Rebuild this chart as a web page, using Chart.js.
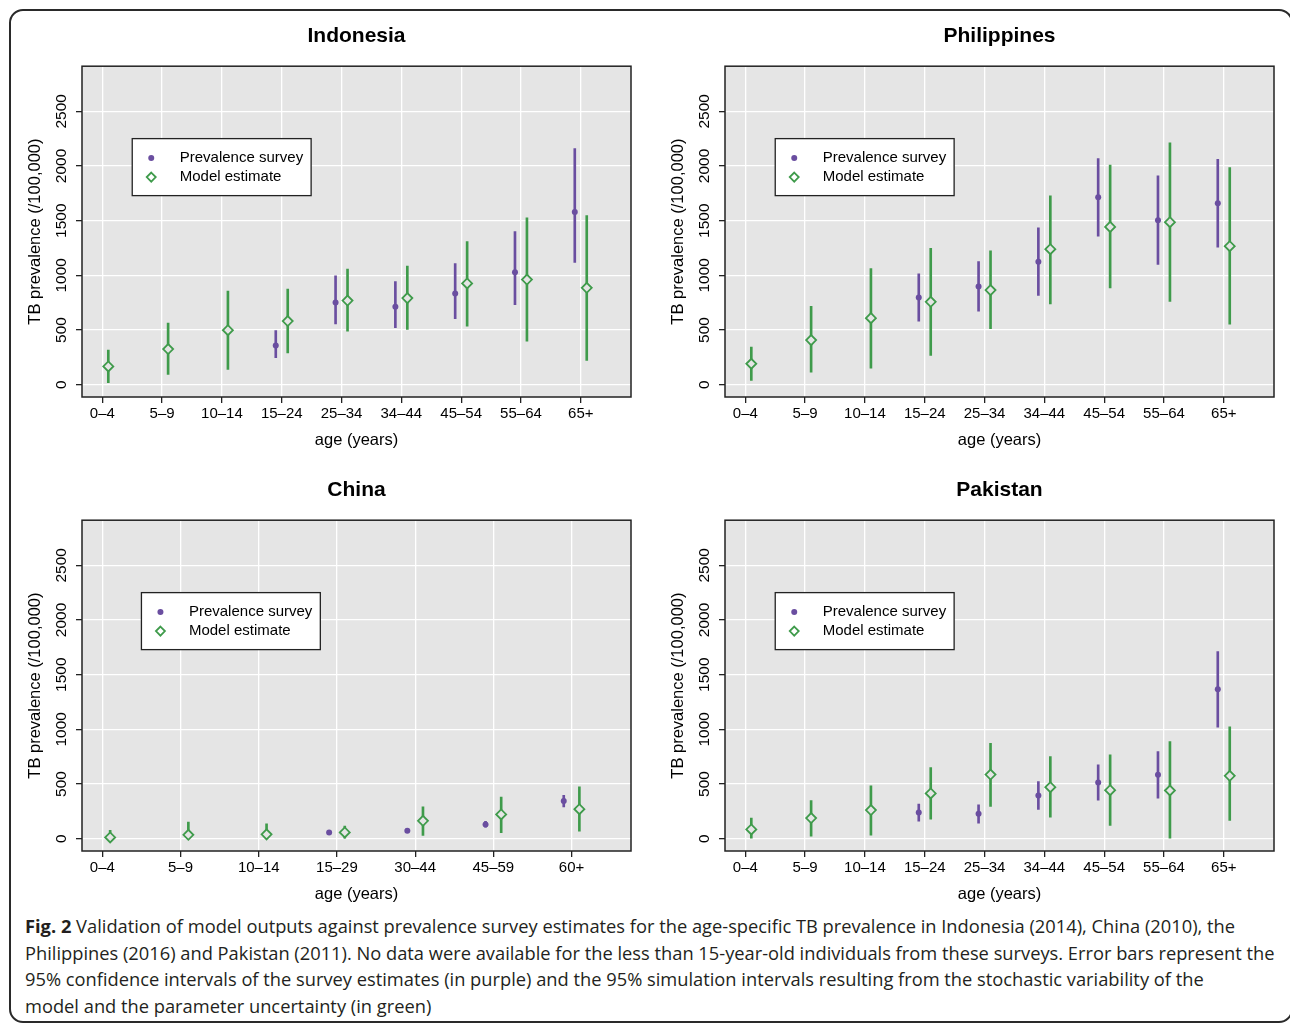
<!DOCTYPE html>
<html>
<head>
<meta charset="utf-8">
<script src="https://cdn.jsdelivr.net/npm/chart.js@4.4.1/dist/chart.umd.min.js"></script>
<style>
  body { margin: 0; background: #fff; width: 1290px; height: 1025px; overflow: hidden; position: relative; }
  .marco { position: absolute; left: 9px; top: 9px; width: 1284px; height: 1014px; border: 2px solid #2a2a2a; border-radius: 14px; box-sizing: border-box; }
  .panel { position: absolute; width: 645px; height: 454px; }
  .pie-figura { position: absolute; left: 25px; top: 913px; font-family: "Open Sans", sans-serif; font-size: 18.3px; line-height: 26.7px; color: #231f20; white-space: nowrap; }
  .pie-figura b { font-weight: 700; }
</style>
</head>
<body>
<div class="marco"></div>
<div class="panel" style="left:0px;top:0px;"><canvas id="graf-indonesia"></canvas></div>
<div class="panel" style="left:643px;top:0px;"><canvas id="graf-filipinas"></canvas></div>
<div class="panel" style="left:0px;top:454px;"><canvas id="graf-china"></canvas></div>
<div class="panel" style="left:643px;top:454px;"><canvas id="graf-pakistan"></canvas></div>
<div class="pie-figura">
  <div><b>Fig. 2</b> Validation of model outputs against prevalence survey estimates for the age-specific TB prevalence in Indonesia (2014), China (2010), the</div>
  <div>Philippines (2016) and Pakistan (2011). No data were available for the less than 15-year-old individuals from these surveys. Error bars represent the</div>
  <div>95% confidence intervals of the survey estimates (in purple) and the 95% simulation intervals resulting from the stochastic variability of the</div>
  <div>model and the parameter uncertainty (in green)</div>
</div>
<script>
// categorias de edad
var edadesGeneral = ['0\u20134', '5\u20139', '10\u201314', '15\u201324', '25\u201334', '34\u201344', '45\u201354', '55\u201364', '65+'];
var edadesChina = ['0\u20134', '5\u20139', '10\u201314', '15\u201329', '30\u201344', '45\u201359', '60+'];
var ticksY = [0, 500, 1000, 1500, 2000, 2500];

// Indonesia
var indEncuesta    = [null, null, null, 359, 752, 713, 834, 1029, 1580];
var indEncuestaInf = [null, null, null, 247, 557, 521, 603, 731, 1118];
var indEncuestaSup = [null, null, null, 496, 996, 944, 1108, 1401, 2159];
var indModelo      = [167, 326, 499, 582, 770, 792, 926, 962, 886];
var indModeloInf   = [18, 94, 140, 292, 490, 505, 536, 399, 222];
var indModeloSup   = [317, 563, 856, 874, 1057, 1084, 1309, 1526, 1547];

// Filipinas
var filEncuesta    = [null, null, null, 798, 898, 1124, 1714, 1504, 1660];
var filEncuestaInf = [null, null, null, 582, 673, 816, 1358, 1099, 1258];
var filEncuestaSup = [null, null, null, 1014, 1127, 1434, 2068, 1909, 2061];
var filModelo      = [192, 408, 609, 758, 865, 1239, 1443, 1486, 1267];
var filModeloInf   = [40, 116, 152, 268, 512, 740, 886, 761, 554];
var filModeloSup   = [344, 716, 1063, 1248, 1224, 1727, 2007, 2211, 1985];

// China
var chiEncuesta    = [null, null, null, 58, 73, 131, 344];
var chiEncuestaInf = [null, null, null, 45, 60, 105, 290];
var chiEncuestaSup = [null, null, null, 72, 86, 160, 398];
var chiModelo      = [12, 36, 40, 58, 164, 222, 270];
var chiModeloInf   = [0, 0, 0, 0, 30, 55, 70];
var chiModeloSup   = [76, 152, 137, 116, 292, 380, 474];

// Pakistan
var pakEncuesta    = [null, null, null, 240, 228, 395, 514, 584, 1366];
var pakEncuestaInf = [null, null, null, 161, 143, 268, 353, 371, 1019];
var pakEncuestaSup = [null, null, null, 316, 310, 523, 675, 797, 1712];
var pakModelo      = [85, 189, 262, 414, 587, 471, 444, 441, 575];
var pakModeloInf   = [0, 24, 33, 179, 295, 198, 122, 0, 167];
var pakModeloSup   = [189, 350, 484, 651, 873, 751, 766, 888, 1022];

var colorEncuesta = '#6a4ea0';
var colorModelo = '#3f9b4b';
var fondoPanel = '#e5e5e5';
var fuente = '"Liberation Sans", Arial, sans-serif';
var desplazamiento = 0.1;

Chart.defaults.font.family = fuente;
Chart.defaults.color = '#000';

var pluginPanel = {
  id: 'panel',
  beforeDraw: function(chart) {
    var a = chart.chartArea;
    var ctx = chart.ctx;
    ctx.save();
    ctx.fillStyle = fondoPanel;
    ctx.fillRect(a.left, a.top, a.right - a.left, a.bottom - a.top);
    ctx.restore();
  },
  afterDraw: function(chart) {
    var a = chart.chartArea;
    var ctx = chart.ctx;
    var ejeX = chart.scales.x;
    var ejeY = chart.scales.y;
    ctx.save();

    // marco del panel
    ctx.strokeStyle = '#222';
    ctx.lineWidth = 1.5;
    ctx.strokeRect(a.left, a.top, a.right - a.left, a.bottom - a.top);

    // etiquetas del eje y, giradas como en R
    ctx.fillStyle = '#000';
    ctx.font = '15.5px ' + fuente;
    ctx.textAlign = 'center';
    ctx.textBaseline = 'middle';
    ejeY.ticks.forEach(function(t) {
      var py = ejeY.getPixelForValue(t.value);
      ctx.save();
      ctx.translate(a.left - 20, py);
      ctx.rotate(-Math.PI / 2);
      ctx.fillText(String(t.value), 0, 0);
      ctx.restore();
    });

    // leyenda dentro del panel
    var textos = ['Prevalence survey', 'Model estimate'];
    ctx.font = '15px ' + fuente;
    var anchoTexto = Math.max(ctx.measureText(textos[0]).width, ctx.measureText(textos[1]).width);
    var lx = ejeX.getPixelForValue(1.5);
    var ly = ejeY.getPixelForValue(2250);
    var ancho = 47.5 + anchoTexto + 8;
    var alto = 57;
    ctx.fillStyle = '#fff';
    ctx.fillRect(lx, ly, ancho, alto);
    ctx.strokeStyle = '#222';
    ctx.lineWidth = 1.3;
    ctx.strokeRect(lx, ly, ancho, alto);

    var fila1 = ly + 19.5;
    var fila2 = ly + 38.5;
    ctx.fillStyle = colorEncuesta;
    ctx.beginPath();
    ctx.arc(lx + 19, fila1, 3, 0, Math.PI * 2);
    ctx.fill();

    ctx.strokeStyle = colorModelo;
    ctx.lineWidth = 1.8;
    ctx.beginPath();
    ctx.moveTo(lx + 19, fila2 - 4.5);
    ctx.lineTo(lx + 23.5, fila2);
    ctx.lineTo(lx + 19, fila2 + 4.5);
    ctx.lineTo(lx + 14.5, fila2);
    ctx.closePath();
    ctx.stroke();

    ctx.fillStyle = '#000';
    ctx.textAlign = 'left';
    ctx.fillText(textos[0], lx + 47.5, fila1);
    ctx.fillText(textos[1], lx + 47.5, fila2);
    ctx.restore();
  }
};

function crearGrafico(idCanvas, titulo, edades, encuesta, encuestaInf, encuestaSup, modelo, modeloInf, modeloSup) {
  var n = edades.length;
  var rango = n - 0.5;
  var puntosEncuesta = [];
  var barrasEncuesta = [];
  var puntosModelo = [];
  var barrasModelo = [];

  for (var i = 0; i < n; i++) {
    if (encuesta[i] !== null) {
      puntosEncuesta.push({x: i + 1 - desplazamiento, y: encuesta[i]});
      barrasEncuesta.push({x: i + 1 - desplazamiento, y: [encuestaInf[i], encuestaSup[i]]});
    }
    puntosModelo.push({x: i + 1 + desplazamiento, y: modelo[i]});
    barrasModelo.push({x: i + 1 + desplazamiento, y: [modeloInf[i], modeloSup[i]]});
  }

  var datasets = [
    {
      type: 'scatter', label: 'Prevalence survey', data: puntosEncuesta, order: 1,
      pointStyle: 'circle', pointRadius: 3, backgroundColor: colorEncuesta, borderWidth: 0
    },
    {
      type: 'scatter', label: 'Model estimate', data: puntosModelo, order: 1,
      pointStyle: 'rectRot', pointRadius: 5, backgroundColor: fondoPanel, borderColor: colorModelo, borderWidth: 1.8
    },
    {
      type: 'bar', label: 'IC encuesta', data: barrasEncuesta, order: 2,
      backgroundColor: colorEncuesta, barThickness: 2, grouped: false, borderWidth: 0
    },
    {
      type: 'bar', label: 'IC modelo', data: barrasModelo, order: 2,
      backgroundColor: colorModelo, barThickness: 2, grouped: false, borderWidth: 0
    }
  ];

  var contexto = document.getElementById(idCanvas).getContext('2d');
  return new Chart(contexto, {
    type: 'scatter',
    data: { datasets: datasets },
    options: {
      responsive: true,
      maintainAspectRatio: false,
      animation: false,
      events: [],
      layout: { padding: { left: 0, right: 14, top: 0, bottom: 0 } },
      plugins: {
        legend: { display: false },
        tooltip: { enabled: false },
        title: {
          display: true, text: titulo, fullSize: false, color: '#000',
          font: { size: 21, weight: 'bold', family: fuente },
          padding: { top: 23.5, bottom: 17.5 }
        }
      },
      scales: {
        x: {
          type: 'linear',
          offset: false,
          min: 1 - rango * 0.04,
          max: n + 0.5 + rango * 0.04,
          afterBuildTicks: function(eje) {
            eje.ticks = edades.map(function(e, j) { return {value: j + 1}; });
          },
          afterFit: function(eje) { eje.height = 57; },
          border: { display: false },
          grid: { color: '#ffffff', lineWidth: 1.3, offset: false, drawTicks: true, tickLength: 6, tickColor: '#222', tickWidth: 1.3 },
          ticks: {
            autoSkip: false, maxRotation: 0, padding: 2, color: '#000',
            font: { size: 15, family: fuente },
            callback: function(valor) { return edades[Math.round(valor) - 1]; }
          },
          title: { display: true, text: 'age (years)', color: '#000', font: { size: 16.5, family: fuente }, padding: { top: 0, bottom: 4 } }
        },
        y: {
          type: 'linear',
          min: -112,
          max: 2912,
          afterBuildTicks: function(eje) {
            eje.ticks = ticksY.map(function(v) { return {value: v}; });
          },
          afterFit: function(eje) { eje.width = 82; },
          border: { display: false },
          grid: { color: '#ffffff', lineWidth: 1.3, drawTicks: true, tickLength: 6, tickColor: '#222', tickWidth: 1.3 },
          ticks: { display: false },
          title: { display: true, text: 'TB prevalence (/100,000)', color: '#000', font: { size: 16.5, family: fuente }, padding: { top: 26, bottom: 0 } }
        }
      }
    },
    plugins: [pluginPanel]
  });
}

crearGrafico('graf-indonesia', 'Indonesia', edadesGeneral, indEncuesta, indEncuestaInf, indEncuestaSup, indModelo, indModeloInf, indModeloSup);
crearGrafico('graf-filipinas', 'Philippines', edadesGeneral, filEncuesta, filEncuestaInf, filEncuestaSup, filModelo, filModeloInf, filModeloSup);
crearGrafico('graf-china', 'China', edadesChina, chiEncuesta, chiEncuestaInf, chiEncuestaSup, chiModelo, chiModeloInf, chiModeloSup);
crearGrafico('graf-pakistan', 'Pakistan', edadesGeneral, pakEncuesta, pakEncuestaInf, pakEncuestaSup, pakModelo, pakModeloInf, pakModeloSup);
</script>
</body>
</html>
